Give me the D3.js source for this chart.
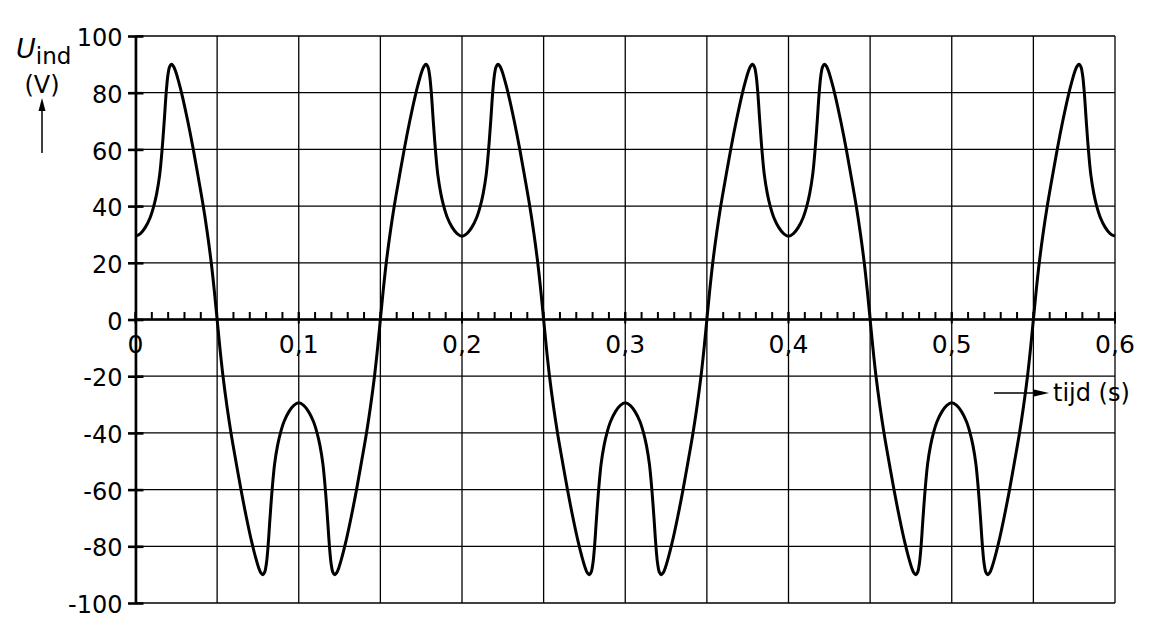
<!DOCTYPE html>
<html>
<head>
<meta charset="utf-8">
<script src="https://cdn.jsdelivr.net/npm/d3@7"></script>
<style>
  html, body { margin: 0; padding: 0; background: #fff; }
  svg { display: block; }
  text { font-family: "DejaVu Sans", "Liberation Sans", sans-serif; fill: #000; }
</style>
</head>
<body>
<svg id="chart" width="1160" height="642"></svg>
<script>
// ---- data ----
const yTicks = [100, 80, 60, 40, 20, 0, -20, -40, -60, -80, -100];
const xTickValues = [0, 0.1, 0.2, 0.3, 0.4, 0.5, 0.6];
const xTickLabels = ["0", "0,1", "0,2", "0,3", "0,4", "0,5", "0,6"];
const xGridValues = [0, 0.05, 0.1, 0.15, 0.2, 0.25, 0.3, 0.35, 0.4, 0.45, 0.5, 0.55, 0.6];
const xMinorTicks = [0,0.01,0.02,0.03,0.04,0.05,0.06,0.07,0.08,0.09,0.1,0.11,0.12,0.13,0.14,0.15,0.16,0.17,0.18,0.19,0.2,
  0.21,0.22,0.23,0.24,0.25,0.26,0.27,0.28,0.29,0.3,0.31,0.32,0.33,0.34,0.35,0.36,0.37,0.38,0.39,0.4,
  0.41,0.42,0.43,0.44,0.45,0.46,0.47,0.48,0.49,0.5,0.51,0.52,0.53,0.54,0.55,0.56,0.57,0.58,0.59,0.6];

// time (s)
const timeS = [
  0, 0.003, 0.006, 0.009, 0.0112, 0.013, 0.0148, 0.0163, 0.0176, 0.0188, 0.0198, 0.0208, 0.022, 0.0232, 0.0246, 0.0264, 0.0286, 0.032, 0.0354, 0.0385, 0.0415, 0.044, 0.0464, 0.0483, 0.05,
  0.0517, 0.0536, 0.056, 0.0585, 0.0615, 0.0646, 0.068, 0.0714, 0.0736, 0.0754, 0.0768, 0.078, 0.0792, 0.0802, 0.0812, 0.0824, 0.0837, 0.0852, 0.087, 0.0888, 0.091, 0.094, 0.097, 0.1,
  0.103, 0.106, 0.109, 0.1112, 0.113, 0.1148, 0.1163, 0.1176, 0.1188, 0.1198, 0.1208, 0.122, 0.1232, 0.1246, 0.1264, 0.1286, 0.132, 0.1354, 0.1385, 0.1415, 0.144, 0.1464, 0.1483, 0.15,
  0.1517, 0.1536, 0.156, 0.1585, 0.1615, 0.1646, 0.168, 0.1714, 0.1736, 0.1754, 0.1768, 0.178, 0.1792, 0.1802, 0.1812, 0.1824, 0.1837, 0.1852, 0.187, 0.1888, 0.191, 0.194, 0.197, 0.2,
  0.203, 0.206, 0.209, 0.2112, 0.213, 0.2148, 0.2163, 0.2176, 0.2188, 0.2198, 0.2208, 0.222, 0.2232, 0.2246, 0.2264, 0.2286, 0.232, 0.2354, 0.2385, 0.2415, 0.244, 0.2464, 0.2483, 0.25,
  0.2517, 0.2536, 0.256, 0.2585, 0.2615, 0.2646, 0.268, 0.2714, 0.2736, 0.2754, 0.2768, 0.278, 0.2792, 0.2802, 0.2812, 0.2824, 0.2837, 0.2852, 0.287, 0.2888, 0.291, 0.294, 0.297, 0.3,
  0.303, 0.306, 0.309, 0.3112, 0.313, 0.3148, 0.3163, 0.3176, 0.3188, 0.3198, 0.3208, 0.322, 0.3232, 0.3246, 0.3264, 0.3286, 0.332, 0.3354, 0.3385, 0.3415, 0.344, 0.3464, 0.3483, 0.35,
  0.3517, 0.3536, 0.356, 0.3585, 0.3615, 0.3646, 0.368, 0.3714, 0.3736, 0.3754, 0.3768, 0.378, 0.3792, 0.3802, 0.3812, 0.3824, 0.3837, 0.3852, 0.387, 0.3888, 0.391, 0.394, 0.397, 0.4,
  0.403, 0.406, 0.409, 0.4112, 0.413, 0.4148, 0.4163, 0.4176, 0.4188, 0.4198, 0.4208, 0.422, 0.4232, 0.4246, 0.4264, 0.4286, 0.432, 0.4354, 0.4385, 0.4415, 0.444, 0.4464, 0.4483, 0.45,
  0.4517, 0.4536, 0.456, 0.4585, 0.4615, 0.4646, 0.468, 0.4714, 0.4736, 0.4754, 0.4768, 0.478, 0.4792, 0.4802, 0.4812, 0.4824, 0.4837, 0.4852, 0.487, 0.4888, 0.491, 0.494, 0.497, 0.5,
  0.503, 0.506, 0.509, 0.5112, 0.513, 0.5148, 0.5163, 0.5176, 0.5188, 0.5198, 0.5208, 0.522, 0.5232, 0.5246, 0.5264, 0.5286, 0.532, 0.5354, 0.5385, 0.5415, 0.544, 0.5464, 0.5483, 0.55,
  0.5517, 0.5536, 0.556, 0.5585, 0.5615, 0.5646, 0.568, 0.5714, 0.5736, 0.5754, 0.5768, 0.578, 0.5792, 0.5802, 0.5812, 0.5824, 0.5837, 0.5852, 0.587, 0.5888, 0.591, 0.594, 0.597, 0.6
];
// induced voltage (V)
const voltageV = [
  29.4, 30.3, 32.5, 36, 40, 44.5, 51, 60, 70, 80, 86, 89, 90, 89.4, 87.5, 84, 79, 70, 60, 50, 40, 30.5, 20, 10, 0,
  -10, -20, -30.5, -40, -50, -60, -70, -79, -84, -87.5, -89.4, -90, -89, -86, -80, -70, -60, -51, -44.5, -40, -36, -32.5, -30.3, -29.4,
  -30.3, -32.5, -36, -40, -44.5, -51, -60, -70, -80, -86, -89, -90, -89.4, -87.5, -84, -79, -70, -60, -50, -40, -30.5, -20, -10, 0,
  10, 20, 30.5, 40, 50, 60, 70, 79, 84, 87.5, 89.4, 90, 89, 86, 80, 70, 60, 51, 44.5, 40, 36, 32.5, 30.3, 29.4,
  30.3, 32.5, 36, 40, 44.5, 51, 60, 70, 80, 86, 89, 90, 89.4, 87.5, 84, 79, 70, 60, 50, 40, 30.5, 20, 10, 0,
  -10, -20, -30.5, -40, -50, -60, -70, -79, -84, -87.5, -89.4, -90, -89, -86, -80, -70, -60, -51, -44.5, -40, -36, -32.5, -30.3, -29.4,
  -30.3, -32.5, -36, -40, -44.5, -51, -60, -70, -80, -86, -89, -90, -89.4, -87.5, -84, -79, -70, -60, -50, -40, -30.5, -20, -10, 0,
  10, 20, 30.5, 40, 50, 60, 70, 79, 84, 87.5, 89.4, 90, 89, 86, 80, 70, 60, 51, 44.5, 40, 36, 32.5, 30.3, 29.4,
  30.3, 32.5, 36, 40, 44.5, 51, 60, 70, 80, 86, 89, 90, 89.4, 87.5, 84, 79, 70, 60, 50, 40, 30.5, 20, 10, 0,
  -10, -20, -30.5, -40, -50, -60, -70, -79, -84, -87.5, -89.4, -90, -89, -86, -80, -70, -60, -51, -44.5, -40, -36, -32.5, -30.3, -29.4,
  -30.3, -32.5, -36, -40, -44.5, -51, -60, -70, -80, -86, -89, -90, -89.4, -87.5, -84, -79, -70, -60, -50, -40, -30.5, -20, -10, 0,
  10, 20, 30.5, 40, 50, 60, 70, 79, 84, 87.5, 89.4, 90, 89, 86, 80, 70, 60, 51, 44.5, 40, 36, 32.5, 30.3, 29.4
];

// ---- drawing ----
const svg = d3.select("#chart");
svg.append("rect").attr("width", 1160).attr("height", 642).attr("fill", "#fff");

const x = d3.scaleLinear().domain([0, 0.6]).range([135.5, 1115]);
const y = d3.scaleLinear().domain([-100, 100]).range([603, 36]);

// grid
const grid = svg.append("g").attr("stroke", "#000").attr("stroke-width", 1.3);
grid.selectAll("line.h").data(yTicks).join("line")
  .attr("x1", x(0)).attr("x2", x(0.6))
  .attr("y1", d => y(d)).attr("y2", d => y(d));
grid.selectAll("line.v").data(xGridValues).join("line")
  .attr("x1", d => x(d)).attr("x2", d => x(d))
  .attr("y1", y(100)).attr("y2", y(-100));

// y axis
const yAxis = svg.append("g").attr("transform", `translate(${x(0)},0)`)
  .call(d3.axisLeft(y).tickValues(yTicks).tickFormat(d => String(d)).tickSizeOuter(0));
yAxis.attr("font-size", null).attr("font-family", null);
yAxis.select(".domain").attr("stroke", "#000").attr("stroke-width", 2.6);
yAxis.selectAll(".tick line").attr("x1", -7.5).attr("x2", 8).attr("stroke", "#000").attr("stroke-width", 2.6);
yAxis.selectAll(".tick text").attr("x", -13).attr("dy", "0.40em")
  .style("font-size", "24px").attr("fill", "#000");

// x axis at y = 0 with minor ticks every 0.01
const xAxisG = svg.append("g").attr("transform", `translate(0,${y(0)})`);
xAxisG.append("line").attr("x1", x(0)).attr("x2", x(0.6)).attr("y1", 0).attr("y2", 0)
  .attr("stroke", "#000").attr("stroke-width", 2.6);
xAxisG.selectAll("line.minor").data(xMinorTicks).join("line").attr("class", "minor")
  .attr("x1", d => x(d)).attr("x2", d => x(d)).attr("y1", 0).attr("y2", -7.5)
  .attr("stroke", "#000").attr("stroke-width", 2);
xAxisG.selectAll("line.major").data(xTickValues).join("line").attr("class", "major")
  .attr("x1", d => x(d)).attr("x2", d => x(d)).attr("y1", -7.5).attr("y2", 4)
  .attr("stroke", "#000").attr("stroke-width", 2);
xAxisG.selectAll("text").data(xTickValues).join("text")
  .attr("x", d => x(d)).attr("y", 33)
  .attr("text-anchor", "middle").style("font-size", "25px")
  .text((d, i) => xTickLabels[i]);

// curve
const line = d3.line().x(i => x(timeS[i])).y(i => y(voltageV[i])).curve(d3.curveCatmullRom.alpha(0.5));
svg.append("path").datum(d3.range(timeS.length))
  .attr("d", line).attr("fill", "none").attr("stroke", "#000")
  .attr("stroke-width", 3).attr("stroke-linejoin", "round");

// axis titles
const yt = svg.append("text").attr("x", 16).attr("y", 58).style("font-size", "27px");
yt.append("tspan").attr("font-style", "italic").text("U");
yt.append("tspan").attr("dy", 6).style("font-size", "23px").text("ind");
svg.append("text").attr("x", 42).attr("y", 93).attr("text-anchor", "middle").style("font-size", "24px").text("(V)");

svg.append("line").attr("x1", 42).attr("x2", 42).attr("y1", 153).attr("y2", 108)
  .attr("stroke", "#000").attr("stroke-width", 1.5);
svg.append("path").attr("d", "M42,98 L38.5,111 L45.5,111 Z").attr("fill", "#000");

svg.append("line").attr("x1", 994).attr("x2", 1036).attr("y1", 393).attr("y2", 393)
  .attr("stroke", "#000").attr("stroke-width", 1.5);
svg.append("path").attr("d", "M1049,393 L1034,389.5 L1034,396.5 Z").attr("fill", "#000");
svg.append("text").attr("x", 1053).attr("y", 401).style("font-size", "24px").text("tijd (s)");
</script>
</body>
</html>
